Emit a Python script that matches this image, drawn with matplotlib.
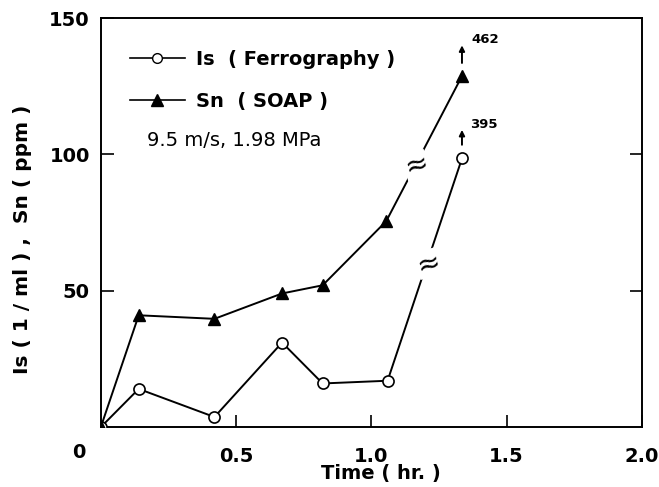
import matplotlib.pyplot as plt
from matplotlib.lines import Line2D

plt.rcParams["font.family"] = ["DejaVu Sans"]
plt.rcParams["font.weight"] = "bold"
plt.rcParams["axes.labelweight"] = "bold"

# Dados
time_is = [0.0, 0.14, 0.42, 0.67, 0.82, 1.06, 1.335]
is_vals = [0.0, 14.0, 3.7, 31.0, 16.0, 17.0, 98.5]
time_sn = [0.0, 0.14, 0.42, 0.67, 0.82, 1.055, 1.335]
sn_vals = [0.0, 41.0, 39.7, 49.0, 52.0, 75.5, 128.7]
breaks_is = (1.21, 60.0)
breaks_sn = (1.165, 96.0)
label_is = "395"
label_sn = "462"

fig = plt.figure(figsize=(6.59, 4.87), dpi=100)
ax = fig.add_axes([0.153, 0.123, 0.821, 0.840])

ax.plot(time_is, is_vals, color="black", lw=1.4, marker="o", ms=8,
        mfc="white", mec="black", mew=1.2, zorder=3)
ax.plot(time_sn, sn_vals, color="black", lw=1.4, marker="^", ms=9,
        mfc="black", mec="black", zorder=3)

# marcas de quebra nas linhas
for bx, by in [breaks_is, breaks_sn]:
    ax.text(bx, by, "≈", fontsize=20, ha="center", va="center", rotation=15,
            fontweight="normal",
            bbox=dict(fc="white", ec="none", pad=0.0), zorder=4)

# setas dos valores fora da escala
ax.annotate("", xy=(time_sn[-1], 141), xytext=(time_sn[-1], 132.5),
            arrowprops=dict(arrowstyle="-|>", color="black", lw=1.4,
                            mutation_scale=8))
ax.annotate("", xy=(time_is[-1], 110), xytext=(time_is[-1], 102.5),
            arrowprops=dict(arrowstyle="-|>", color="black", lw=1.4,
                            mutation_scale=8))
ax.text(1.37, 142, label_sn, fontsize=9.5, va="center")
ax.text(1.365, 111, label_is, fontsize=9.5, va="center")

ax.set_xlim(0, 2.0)
ax.set_ylim(0, 150)
ax.set_xticks([0.5, 1.0, 1.5, 2.0])
ax.set_xticklabels(["0.5", "1.0", "1.5", "2.0"])
ax.set_yticks([50, 100, 150])
ax.tick_params(direction="in", length=9, width=1.2, labelsize=14, pad=14,
               right=True)
ax.tick_params(axis="y", pad=8)
for s in ax.spines.values():
    s.set_linewidth(1.4)
ax.annotate("0", xy=(0, 0), xycoords="axes fraction", xytext=(-16, -18),
            textcoords="offset points", ha="center", va="center", fontsize=14)

ax.set_xlabel("Time ( hr. )", fontsize=14)
ax.xaxis.set_label_coords(0.517, -0.09)
ax.set_ylabel("Is ( 1 / ml ) ,  Sn ( ppm )", fontsize=14.5)
ax.yaxis.set_label_coords(-0.128, 0.46)

handles = [
    Line2D([], [], color="black", lw=1.2, marker="o", ms=7, mfc="white",
           mec="black"),
    Line2D([], [], color="black", lw=1.2, marker="^", ms=9, mfc="black"),
]
ax.legend(handles, ["Is  ( Ferrography )", "Sn  ( SOAP )"], loc="upper left",
          bbox_to_anchor=(0.022, 0.965), frameon=False, fontsize=14,
          handlelength=2.8, handletextpad=0.6, labelspacing=1.2)
ax.text(0.086, 0.70, "9.5 m/s, 1.98 MPa", transform=ax.transAxes,
        fontsize=14, fontweight="normal", va="center")

fig.savefig("out.png", dpi=100)
